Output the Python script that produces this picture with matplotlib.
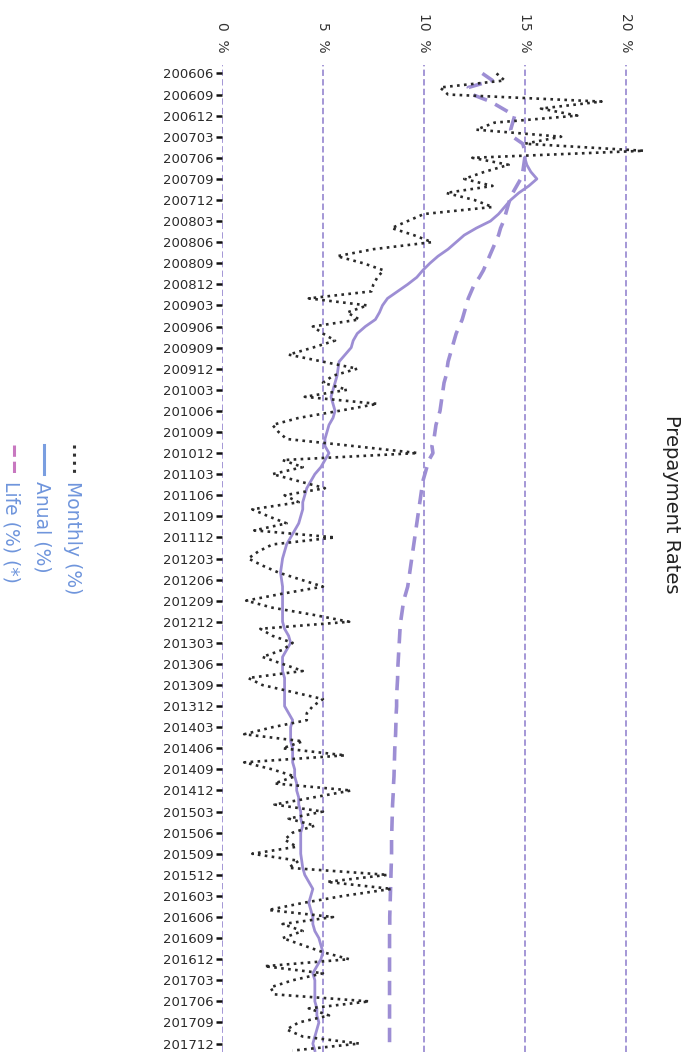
import matplotlib
matplotlib.use("Agg")
from matplotlib import pyplot as plt
from matplotlib.lines import Line2D
import numpy as np
import pandas as pd

# months 200606 .. 201801
months = pd.period_range("2006-06", "2018-01", freq="M")
month_labels = [p.strftime("%Y%m") for p in months]

monthly = [
    13.6, 14.0, 10.8, 11.2, 18.8, 15.8, 17.6, 13.5, 12.6, 16.8,
    15.0, 20.9, 12.4, 14.2, 13.0, 12.0, 13.4, 11.1, 12.5, 13.4,
    10.0, 9.2, 8.4, 9.5, 10.4, 7.5, 5.7, 7.0, 8.0, 7.7,
    7.5, 7.4, 4.3, 7.2, 6.2, 6.8, 4.5, 5.0, 5.6, 4.5,
    3.3, 5.0, 6.7, 5.5, 5.0, 6.2, 4.1, 7.7, 5.8, 3.8,
    2.5, 2.8, 3.2, 6.5, 9.7, 3.0, 4.0, 2.5, 3.8, 5.1,
    3.1, 3.8, 1.5, 2.3, 3.2, 1.6, 5.6, 2.5, 1.8, 1.3,
    2.0, 2.8, 3.9, 5.0, 3.0, 1.2, 2.5, 4.5, 6.3, 1.9,
    2.5, 3.5, 3.0, 2.0, 3.0, 4.0, 1.3, 2.0, 3.5, 5.0,
    4.5, 4.2, 4.2, 2.5, 1.1, 4.0, 3.0, 6.1, 1.1, 2.5,
    3.6, 2.6, 6.4, 4.5, 2.6, 5.0, 3.3, 4.6, 3.5, 3.1,
    3.7, 1.5, 3.8, 3.3, 8.2, 5.2, 8.4, 6.0, 4.0, 2.3,
    5.5, 3.0, 4.0, 3.0, 4.0, 5.0, 6.3, 2.1, 5.0, 3.5,
    2.4, 2.6, 7.3, 4.3, 5.3, 3.8, 3.2, 4.0, 6.8, 3.5,
]

annual = [np.nan] * 12 + [
    15.0, 15.1, 15.3, 15.6, 15.2, 14.7, 14.3, 14.0,
    13.7, 13.3, 12.6, 12.0, 11.6, 11.2, 10.7, 10.3, 9.95, 9.65,
    9.2, 8.7, 8.2, 7.95, 7.8, 7.6, 7.1, 6.7, 6.5, 6.4,
    6.1, 5.8, 5.75, 5.7, 5.6, 5.5, 5.4, 5.5, 5.6, 5.5,
    5.3, 5.2, 5.1, 5.1, 5.3, 5.1, 4.9, 4.6, 4.4, 4.2,
    4.1, 4.0, 4.0, 3.9, 3.8, 3.6, 3.4, 3.2, 3.1, 3.0,
    2.95, 2.9, 2.95, 3.0, 3.0, 3.0, 3.0, 3.0, 3.0, 3.1,
    3.3, 3.4, 3.2, 3.0, 3.0, 3.0, 3.1, 3.1, 3.1, 3.1,
    3.1, 3.3, 3.5, 3.4, 3.4, 3.4, 3.5, 3.5, 3.5, 3.6,
    3.6, 3.7, 3.7, 3.8, 3.8, 3.9, 3.9, 4.0, 3.9, 3.9,
    3.9, 3.9, 3.95, 4.0, 4.1, 4.3, 4.5, 4.4, 4.3, 4.4,
    4.5, 4.5, 4.6, 4.8, 4.9, 5.0, 4.9, 4.7, 4.5, 4.6,
    4.6, 4.6, 4.6, 4.7, 4.7, 4.8, 4.7, 4.6, 4.5, 4.6,
]

life = [
    12.9, 13.4, 12.2, 12.4, 13.3, 13.9, 14.5, 14.4, 14.3, 14.4,
    14.9, 15.0, 15.0, 14.95, 14.9, 14.8, 14.6, 14.4, 14.25, 14.15,
    14.05, 13.95, 13.8, 13.7, 13.55, 13.4, 13.25, 13.1, 12.95, 12.75,
    12.5, 12.35, 12.2, 12.1, 12.0, 11.9, 11.75, 11.6, 11.5, 11.4,
    11.3, 11.2, 11.15, 11.1, 11.0, 10.95, 10.9, 10.85, 10.8, 10.7,
    10.6, 10.55, 10.5, 10.4, 10.45, 10.25, 10.15, 10.05, 9.95, 9.9,
    9.85, 9.8, 9.75, 9.7, 9.65, 9.6, 9.55, 9.5, 9.45, 9.4,
    9.35, 9.3, 9.25, 9.2, 9.1, 9.0, 8.95, 8.9, 8.85, 8.82,
    8.8, 8.78, 8.76, 8.74, 8.72, 8.7, 8.7, 8.68, 8.66, 8.65,
    8.65, 8.63, 8.62, 8.61, 8.6, 8.58, 8.56, 8.55, 8.54, 8.53,
    8.52, 8.5, 8.49, 8.47, 8.45, 8.44, 8.43, 8.42, 8.41, 8.4,
    8.4, 8.4, 8.39, 8.38, 8.37, 8.36, 8.35, 8.34, 8.33, 8.32,
    8.31, 8.31, 8.3, 8.3, 8.3, 8.3, 8.3, 8.3, 8.3, 8.3,
    8.3, 8.3, 8.3, 8.3, 8.3, 8.3, 8.3, 8.3, 8.3, 8.3,
]

pct_ticks = [0, 5, 10, 15, 20]

grid_col = "#9d8fd3"
line_col = "#9d8ed4"

fig = plt.figure(figsize=(6.98, 10.56), dpi=100)
ax = fig.add_axes([222 / 698, 1 - 1052 / 1056, 434 / 698, 987 / 1056])

y = np.arange(len(months))
ax.plot(life, y, color=line_col, lw=2.6, dashes=(4, 2.5), zorder=3)
ax.plot(annual, y, color=line_col, lw=2.0, zorder=4)
ax.plot(monthly, y, color="#2a2a2a", lw=1.9, linestyle=":", zorder=5)

ax.set_xlim(0, 21.5)
ax.set_ylim(139.2, -1.2)

ax.set_xticks(pct_ticks)
ax.set_xticklabels(["%d  %%" % v for v in pct_ticks], rotation=-90,
                   fontsize=10, color="#333333")
ax.xaxis.tick_top()
ax.tick_params(axis="x", length=0, pad=9)

ax.set_yticks(y[::3])
ax.set_yticklabels(month_labels[::3], fontsize=9.5, color="#2a2a2a")
ax.tick_params(axis="y", length=4, width=1.8, pad=2, color="#111111")

ax.grid(axis="x", color=grid_col, linestyle=(0, (3.5, 1.8)), linewidth=1.3)
ax.grid(axis="y", visible=False)
for s in ax.spines.values():
    s.set_visible(False)

fig.text(672 / 698, 1 - 504 / 1056, "Prepayment Rates", rotation=-90,
         ha="center", va="center", fontsize=14, color="#222222")

# legend, rotated like the rest of the chart
leg_items = [
    ("Monthly (%)", 74, "#333333", ":", 72),
    ("Anual (%)", 44, "#7a9ee0", "-", 42),
    ("Life (%) (*)", 14, "#c878c0", "--", 11),
]
for label, lx, col, ls, tx in leg_items:
    fig.add_artist(Line2D([lx / 698, lx / 698], [1 - 445 / 1056, 1 - 474 / 1056],
                          color=col, linestyle=ls, lw=2.2))
    fig.text(tx / 698, 1 - 481 / 1056, label, rotation=-90, ha="center",
             va="top", fontsize=13.5, color="#6f95dc")

fig.savefig("out.png", dpi=100)
